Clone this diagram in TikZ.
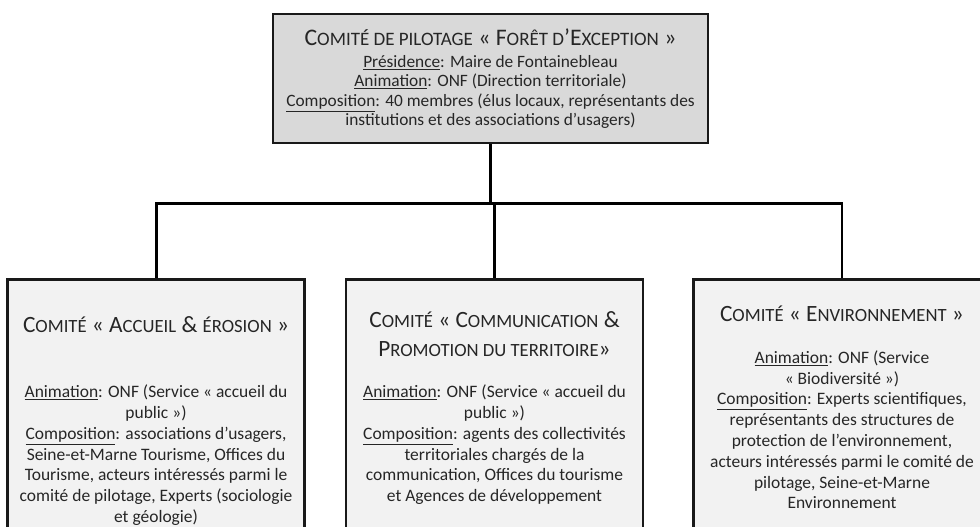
\documentclass[tikz,border=0pt]{standalone}
\usepackage{fontspec}
\setmainfont{Carlito}
\usepackage{tikz}
\usetikzlibrary{positioning}
\definecolor{headgray}{RGB}{217,217,217}
\definecolor{subgray}{RGB}{242,242,242}
\definecolor{inkgray}{RGB}{38,38,38}
\tikzstyle{committee}=[rectangle,draw=black!90,line width=1.8pt,text=inkgray,inner sep=0pt]
\tikzstyle{head committee}=[committee,fill=headgray,minimum width=326pt,minimum height=97pt,align=center,font=\fontsize{13}{14.6}\selectfont]
\tikzstyle{sub committee}=[committee,fill=subgray,anchor=north,inner xsep=4.4pt]
\tikzstyle{link}=[line width=2.2pt,black]
\makeatletter
% fake small capitals (Carlito has none)
\newcommand{\sm}[1]{{\fontsize{\fpeval{0.8*\f@size}}{\f@baselineskip}\selectfont #1}}
\makeatother
\newcommand{\titlefont}{\fontsize{17.5}{22}\selectfont}
\newcommand{\bodyfont}{\fontsize{13.1}{15.6}\selectfont}
% #1 space above, #2 title, #3 gap, #4 body
\newcommand{\subbox}[4]{\parbox[t][198pt][t]{214pt}{\centering\vspace*{#1}%
  {\titlefont #2\par}\vspace{#3}{\bodyfont #4\par}}}

\begin{document}
\begin{tikzpicture}[x=0.75pt,y=-0.75pt]
  \clip (0,0) rectangle (980,526);

  \node[head committee] (pilotage) at (490.5,78.5)
  {{\fontsize{17.8}{20}\selectfont C\sm{OMITÉ DE PILOTAGE} « F\sm{ORÊT D}’E\sm{XCEPTION} »}\\[2pt]
   \underline{Présidence}: Maire de Fontainebleau\\
   \underline{Animation}: ONF (Direction territoriale)\\
   \underline{Composition}: 40 membres (élus locaux, représentants des\\
   institutions et des associations d’usagers)};

  % Sub committees

  \node[sub committee, below = 100.5pt of pilotage, xshift=3pt] (communication)
  {\subbox{24pt}{C\sm{OMITÉ} « C\sm{OMMUNICATION} \&\\ P\sm{ROMOTION DU TERRITOIRE}»}{15pt}
   {\underline{Animation}: ONF (Service « accueil du\\ public »)\\
    \underline{Composition}: agents des collectivités\\ territoriales chargés de la\\
    communication, Offices du tourisme\\ et Agences de développement}};

  \node[sub committee, left = 29.25pt of communication] (accueil)
  {\subbox{28pt}{C\sm{OMITÉ} « A\sm{CCUEIL} \& \sm{ÉROSION} »}{33pt}
   {\underline{Animation}: ONF (Service « accueil du\\ public »)\\
    \underline{Composition}: associations d’usagers,\\ Seine-et-Marne Tourisme, Offices du\\
    Tourisme, acteurs intéressés parmi le\\ comité de pilotage, Experts (sociologie\\ et géologie)}};

  \node[sub committee, right = 36pt of communication] (environnement)
  {\subbox{19.5pt}{C\sm{OMITÉ} « E\sm{NVIRONNEMENT} »}{16pt}
   {\underline{Animation}: ONF (Service\\ « Biodiversité »)\\
    \underline{Composition}: Experts scientifiques,\\ représentants des structures de\\
    protection de l’environnement,\\ acteurs intéressés parmi le comité de\\
    pilotage, Seine-et-Marne\\ Environnement}};

  % Links

  \coordinate (fork) at ([yshift=-44.5pt]pilotage.south);
  \draw[link] (pilotage.south) -- (fork);
  \draw[link] (accueil.north) |- (fork) -| (environnement.north);
  \draw[link] (fork -| communication.north) -- (communication.north);
\end{tikzpicture}
\end{document}
